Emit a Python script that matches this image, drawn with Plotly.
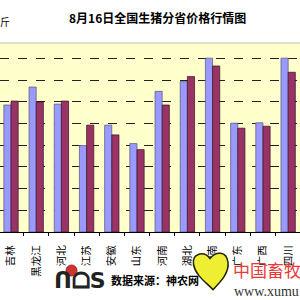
import plotly.graph_objects as go

categories = ["吉林", "黑龙江", "河北", "江苏", "安徽", "山东", "河南", "湖北", "湖南", "广东", "广西", "四川"]
series_a = [5.86, 6.69, 5.90, 3.99, 4.93, 4.08, 6.49, 6.94, 8.02, 5.02, 5.04, 8.02]
series_b = [6.04, 6.00, 6.04, 4.93, 4.48, 3.80, 5.86, 7.17, 7.66, 4.79, 4.88, 7.37]
title_text = "8月16日全国生猪分省价格行情图"
source_text = "数据来源：神农网"
unit_text = "斤"
brand_text = "中国畜牧"
url_text = "www.xumu"

FONT = "Noto Sans CJK SC"
H, T, B = 300, 43, 68
PH = H - T - B


def py(pix):
    """pixel y (from top) -> paper y"""
    return (H - B - pix) / PH


fig = go.Figure()
fig.add_trace(go.Bar(x=categories, y=series_a, name="a",
                     marker=dict(color="#9999FF", line=dict(color="#555577", width=0.7))))
fig.add_trace(go.Bar(x=categories, y=series_b, name="b",
                     marker=dict(color="#993366", line=dict(color="#331122", width=0.7))))

fig.update_layout(
    width=300, height=300,
    margin=dict(l=0, r=0, t=T, b=B),
    paper_bgcolor="white",
    plot_bgcolor="#FFFFCC",
    showlegend=False,
    barmode="group",
    bargap=0.43,
    bargroupgap=0,
    font=dict(family=FONT, color="black"),
)
fig.update_xaxes(
    range=[-0.437, 11.47],
    showline=True, linecolor="black", linewidth=1,
    ticks="outside", ticklen=3, tickcolor="black", tickson="boundaries",
    tickangle=-90, tickfont=dict(size=10.5, family=FONT, color="black"),
    ticklabelstandoff=8,
    showgrid=False,
)
fig.update_yaxes(
    range=[0, 8.72], dtick=1,
    showgrid=True, gridcolor="#222222", gridwidth=1, griddash="dash",
    showticklabels=False, zeroline=False, showline=False,
)

# top border of plot area
fig.add_shape(type="line", xref="paper", yref="paper", x0=0, x1=1, y0=1, y1=1,
              line=dict(color="#BBBBBB", width=1))

fig.add_annotation(text="<b>" + title_text + "</b>", xref="paper", yref="paper",
                   x=157 / 300, y=py(18),
                   showarrow=False, font=dict(size=12, family=FONT, color="black"),
                   xanchor="center", yanchor="middle")
fig.add_annotation(text=unit_text, xref="paper", yref="paper",
                   x=0, y=py(22),
                   showarrow=False, font=dict(size=10, family=FONT, color="black"),
                   xanchor="left", yanchor="middle", xshift=-2)
fig.add_annotation(text="<b>" + source_text + "</b>", xref="paper", yref="paper",
                   x=109 / 300, y=py(280),
                   showarrow=False, font=dict(size=11, family=FONT, color="black"),
                   xanchor="left", yanchor="middle")
fig.add_annotation(text=brand_text, xref="paper", yref="paper",
                   x=231 / 300, y=py(269),
                   showarrow=False, font=dict(size=17, family=FONT, color="#E83A3A"),
                   xanchor="left", yanchor="middle")
fig.add_annotation(text=url_text, xref="paper", yref="paper",
                   x=232 / 300, y=py(291),
                   showarrow=False, font=dict(size=14, family="Liberation Serif", color="#333333"),
                   xanchor="left", yanchor="middle")

# decorative yellow heart logo (approximate)
fig.add_shape(type="path", xref="paper", yref="paper",
              path=("M 0.70 -0.14 C 0.68 -0.10, 0.64 -0.11, 0.645 -0.17 "
                    "C 0.65 -0.23, 0.69 -0.27, 0.71 -0.305 "
                    "C 0.73 -0.27, 0.765 -0.22, 0.76 -0.16 "
                    "C 0.755 -0.10, 0.72 -0.10, 0.70 -0.14 Z"),
              fillcolor="#EEEE33", line=dict(color="#222200", width=1.5))
# decorative logo mark
fig.add_annotation(text="<b>ᑎᗝS</b>", xref="paper", yref="paper",
                   x=52 / 300, y=py(280),
                   showarrow=False, font=dict(size=22, family="DejaVu Sans", color="#222222"),
                   xanchor="left", yanchor="middle")
fig.add_shape(type="circle", xref="paper", yref="paper",
              x0=66 / 300, x1=77 / 300, y0=py(276), y1=py(265),
              fillcolor="#CC3333", line=dict(color="#AA2222", width=1))

fig.write_html("out.html")
